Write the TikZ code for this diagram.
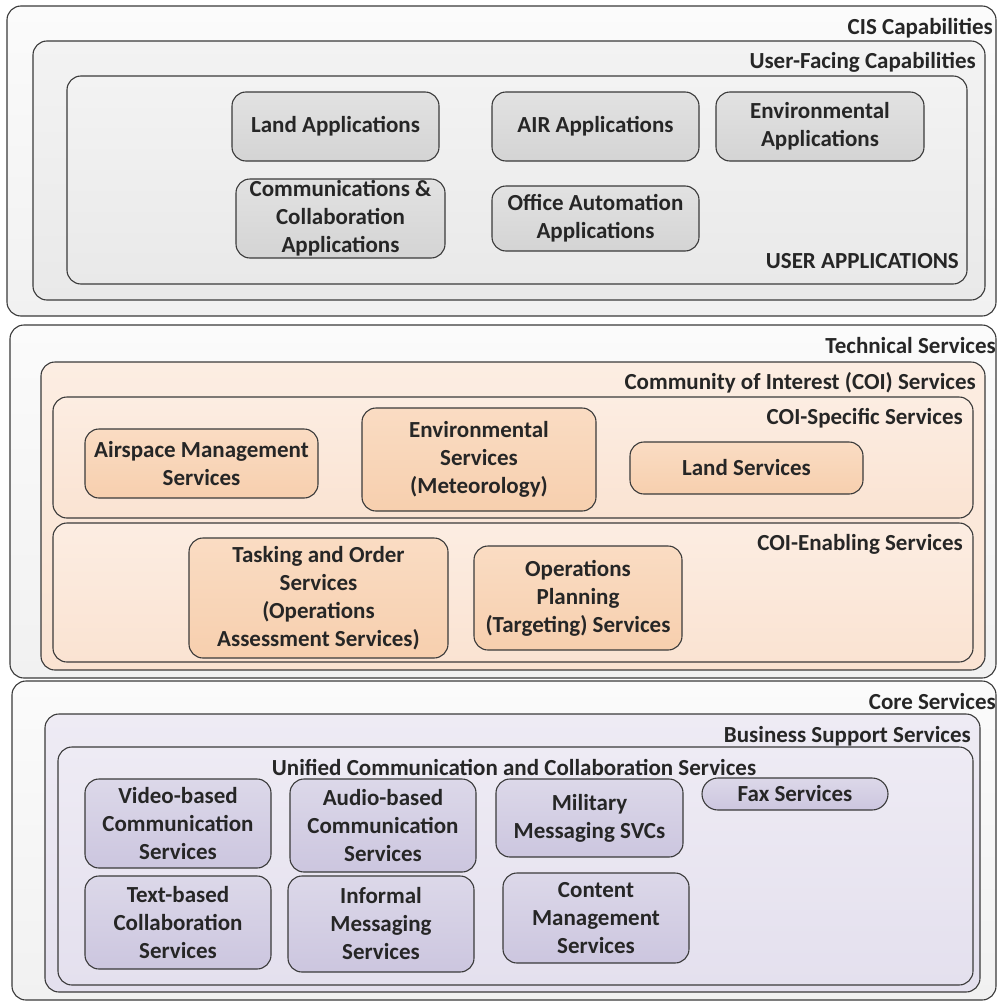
\documentclass[tikz,border=0pt]{standalone}
\usepackage{fontspec}
\setmainfont{Carlito}
\usetikzlibrary{fit}
\definecolor{edge}{HTML}{3A3A3A}
\definecolor{outerA}{HTML}{FBFBFB}\definecolor{outerB}{HTML}{F1F1F1}
\definecolor{grayA}{HTML}{F3F3F3}\definecolor{grayB}{HTML}{E9E9E9}
\definecolor{gnodeA}{HTML}{E2E2E2}\definecolor{gnodeB}{HTML}{D4D4D4}
\definecolor{peachA}{HTML}{FCEDE2}\definecolor{peachB}{HTML}{FAE3D2}
\definecolor{pnodeA}{HTML}{FADCC3}\definecolor{pnodeB}{HTML}{F7CFAE}
\definecolor{lavA}{HTML}{EEEBF4}\definecolor{lavB}{HTML}{E4E0EE}
\definecolor{lnodeA}{HTML}{DCD8E9}\definecolor{lnodeB}{HTML}{CCC6DF}
\tikzset{
  frame/.style={draw=edge, line width=1.1pt, rounded corners=14pt, inner sep=0pt},
  outerbox/.style={frame, top color=outerA, bottom color=outerB},
  graybox/.style={frame, top color=grayA, bottom color=grayB},
  peachbox/.style={frame, top color=peachA, bottom color=peachB},
  lavbox/.style={frame, top color=lavA, bottom color=lavB},
  item/.style={frame, align=center, font=\bfseries\fontsize{23}{28}\selectfont, text=black!85},
  gitem/.style={item, top color=gnodeA, bottom color=gnodeB},
  pitem/.style={item, top color=pnodeA, bottom color=pnodeB},
  litem/.style={item, top color=lnodeA, bottom color=lnodeB},
  sz/.style 2 args={minimum width=#1, minimum height=#2},
  ttl/.style={font=\bfseries\fontsize{23}{28}\selectfont, text=black!85, inner sep=0pt}
}
\begin{document}
\begin{tikzpicture}[x=1pt,y=-1pt]
\useasboundingbox (0,0) rectangle (997,1001);
\fill[white] (0,0) rectangle (997,1001);
% ---- top section
\node[outerbox, fit={(7,6) (996,316)}] (cis) {};
\node[ttl, anchor=east] (cisT) at (993,28) {CIS Capabilities};
\node[graybox, fit={(33,41) (985,300)}] (ufc) {};
\node[ttl, anchor=east] (ufcT) at (976,62) {User-Facing Capabilities};
\node[graybox, fit={(67,76) (967,284)}] (uapp) {};
\node[ttl, anchor=east] (uappT) at (959,261) {USER APPLICATIONS};
\node[gitem, sz={207}{69}] (land) at (335.5,126.5) {Land Applications};
\node[gitem, sz={209}{79}] (comm) at (340.5,218.5) {Communications \&\\Collaboration\\Applications};
\node[gitem, sz={207}{69}] (air) at (595.5,126.5) {AIR Applications};
\node[gitem, sz={207}{65}] (office) at (595.5,218.5) {Office Automation\\Applications};
\node[gitem, sz={208}{69}] (envapp) at (820,126.5) {Environmental\\Applications};
% ---- middle section
\node[outerbox, fit={(10,325) (996,678)}] (tech) {};
\node[ttl, anchor=east] (techT) at (996,346) {Technical Services};
\node[peachbox, fit={(41,362) (985,670)}] (coi) {};
\node[ttl, anchor=east] (coiT) at (976,383) {Community of Interest (COI) Services};
\node[peachbox, fit={(53,397) (973,518)}] (coisp) {};
\node[ttl, anchor=east] (coispT) at (963,418) {COI-Specific Services};
\node[peachbox, fit={(53,523) (973,662)}] (coien) {};
\node[ttl, anchor=east] (coienT) at (963,544) {COI-Enabling Services};
\node[pitem, sz={233}{69}] (airspace) at (201.5,463.5) {Airspace Management\\Services};
\node[pitem, sz={234}{103}] (envsvc) at (479,459.5) {Environmental\\Services\\(Meteorology)};
\node[pitem, sz={233}{52}] (landsvc) at (746.5,468) {Land Services};
\node[pitem, sz={259}{120}] (tasking) at (318.5,598) {Tasking and Order\\Services\\(Operations\\Assessment Services)};
\node[pitem, sz={208}{104}] (opsplan) at (578,598) {Operations\\Planning\\(Targeting) Services};
% ---- bottom section
\node[outerbox, fit={(12,681) (996,1000)}] (core) {};
\node[ttl, anchor=east] (coreT) at (996,702) {Core Services};
\node[lavbox, fit={(45,714) (980,992)}] (bss) {};
\node[ttl, anchor=east] (bssT) at (971,736) {Business Support Services};
\node[lavbox, fit={(58,747) (973,985)}] (ucc) {};
\node[ttl] (uccT) at (514,767) {Unified Communication and Collaboration Services};
\node[litem, sz={186}{89}] (video) at (178,823.5) {Video-based\\Communication\\Services};
\node[litem, sz={186}{93}] (audio) at (383,825.5) {Audio-based\\Communication\\Services};
\node[litem, sz={186}{93}] (textb) at (178,922.5) {Text-based\\Collaboration\\Services};
\node[litem, sz={186}{96}] (informal) at (381,924) {Informal\\Messaging\\Services};
\node[litem, sz={187}{78}] (military) at (589.5,818) {Military\\Messaging SVCs};
\node[litem, sz={186}{90}] (content) at (596,918) {Content\\Management\\Services};
\node[litem, rounded corners=16pt, sz={186}{32}] (fax) at (795,794) {Fax Services};
\end{tikzpicture}
\end{document}
